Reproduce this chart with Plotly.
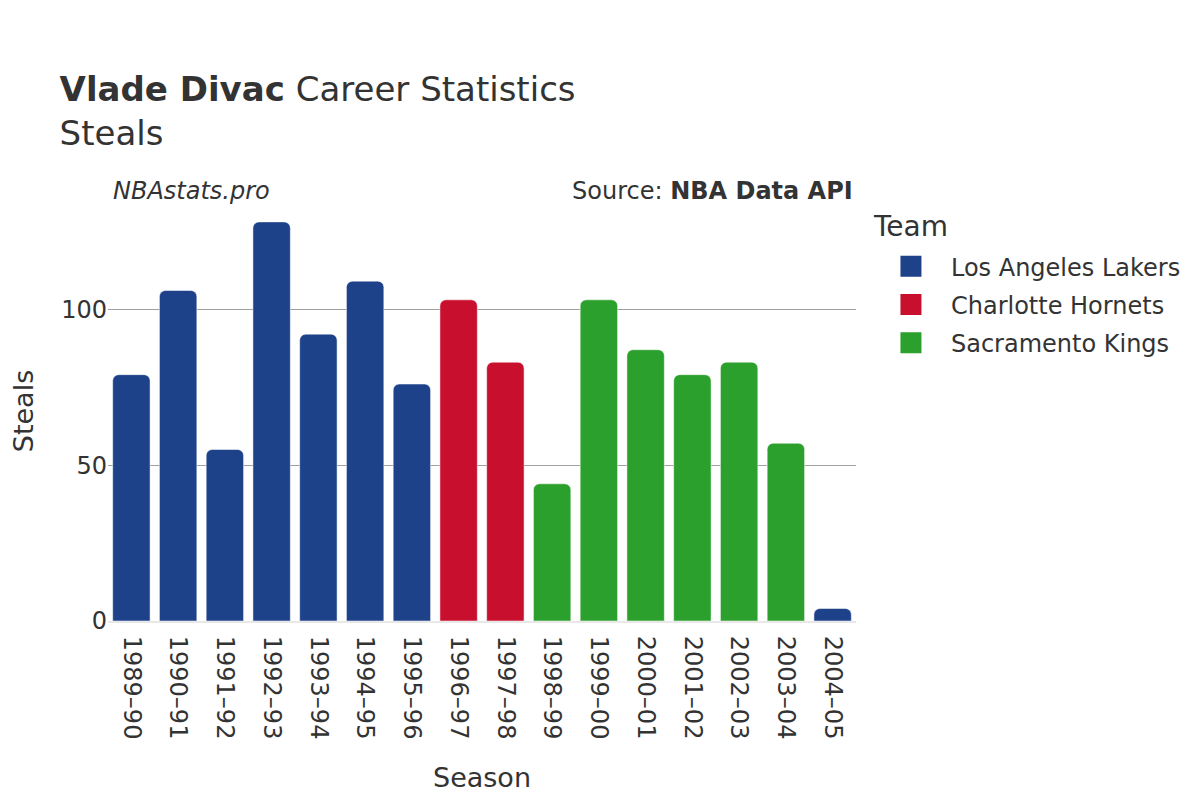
import plotly.graph_objects as go

seasons = ["1989–90", "1990–91", "1991–92", "1992–93", "1993–94", "1994–95", "1995–96",
           "1996–97", "1997–98", "1998–99", "1999–00", "2000–01", "2001–02", "2002–03",
           "2003–04", "2004–05"]
teams = ["Los Angeles Lakers", "Los Angeles Lakers", "Los Angeles Lakers", "Los Angeles Lakers",
         "Los Angeles Lakers", "Los Angeles Lakers", "Los Angeles Lakers",
         "Charlotte Hornets", "Charlotte Hornets",
         "Sacramento Kings", "Sacramento Kings", "Sacramento Kings", "Sacramento Kings",
         "Sacramento Kings", "Sacramento Kings", "Los Angeles Lakers"]
steals = [79, 106, 55, 128, 92, 109, 76, 103, 83, 44, 103, 87, 79, 83, 57, 4]

team_order = ["Los Angeles Lakers", "Charlotte Hornets", "Sacramento Kings"]
team_colors = {"Los Angeles Lakers": "#1d428a", "Charlotte Hornets": "#c8102e",
               "Sacramento Kings": "#2ca02c"}

FONT = "DejaVu Sans"
fig = go.Figure()
for t in team_order:
    xs = [s for s, tm in zip(seasons, teams) if tm == t]
    ys = [v for v, tm in zip(steals, teams) if tm == t]
    fig.add_trace(go.Bar(x=xs, y=ys, name=t, showlegend=False, legendgroup=t,
                         marker=dict(color=team_colors[t], cornerradius=6,
                                     line=dict(width=1, color="rgba(255,255,255,0.5)"))))
for t in team_order:
    fig.add_trace(go.Scatter(x=[None], y=[None], mode="markers", name=t, legendgroup=t,
                             marker=dict(symbol="square", size=16, color=team_colors[t],
                                         line=dict(width=5, color=team_colors[t]))))

fig.update_layout(
    width=1200, height=800,
    plot_bgcolor="white", paper_bgcolor="white",
    font=dict(family=FONT, color="#333333", size=24),
    title=dict(text="<b>Vlade Divac</b> Career Statistics<br>Steals", x=0.043, xanchor="left",
               xref="container", y=0.884, yanchor="top", font=dict(size=34)),
    margin=dict(l=100, r=352, t=193, b=187),
    bargap=0.2,
    showlegend=True,
    legend=dict(font=dict(size=24),
                x=1.02, y=0.897, yanchor="top", tracegroupgap=4, itemwidth=70),
    xaxis=dict(categoryorder="array", categoryarray=seasons, tickangle=90, automargin=False,
               range=[-0.5, 15.5], ticklabelstandoff=8,
               title=dict(text="Season", font=dict(size=27), standoff=30), tickfont=dict(size=24),
               showline=True, linecolor="#e8e8e8", linewidth=2),
    yaxis=dict(title=dict(text="Steals", font=dict(size=27), standoff=34), tickfont=dict(size=24),
               automargin=False, range=[0, 134.7],
               gridcolor="#a0a0a0", showgrid=True, zeroline=False, tickvals=[0, 50, 100]),
    annotations=[
        dict(text="<i>NBAstats.pro</i>", xref="paper", yref="paper", x=0.0, y=1.01,
             xanchor="left", yanchor="bottom", showarrow=False, font=dict(size=24),
             xshift=3, yshift=-10),
        dict(text="Source: <b>NBA Data API</b>", xref="paper", yref="paper", x=1.0, y=1.01,
             xanchor="right", yanchor="bottom", showarrow=False, font=dict(size=24),
             xshift=-1, yshift=-10),
        dict(text="Team", xref="paper", yref="paper", x=1.02, y=1.0,
             xanchor="left", yanchor="middle", showarrow=False, font=dict(size=28),
             xshift=0, yshift=-25),
    ],
)
fig.write_html("out.html")
